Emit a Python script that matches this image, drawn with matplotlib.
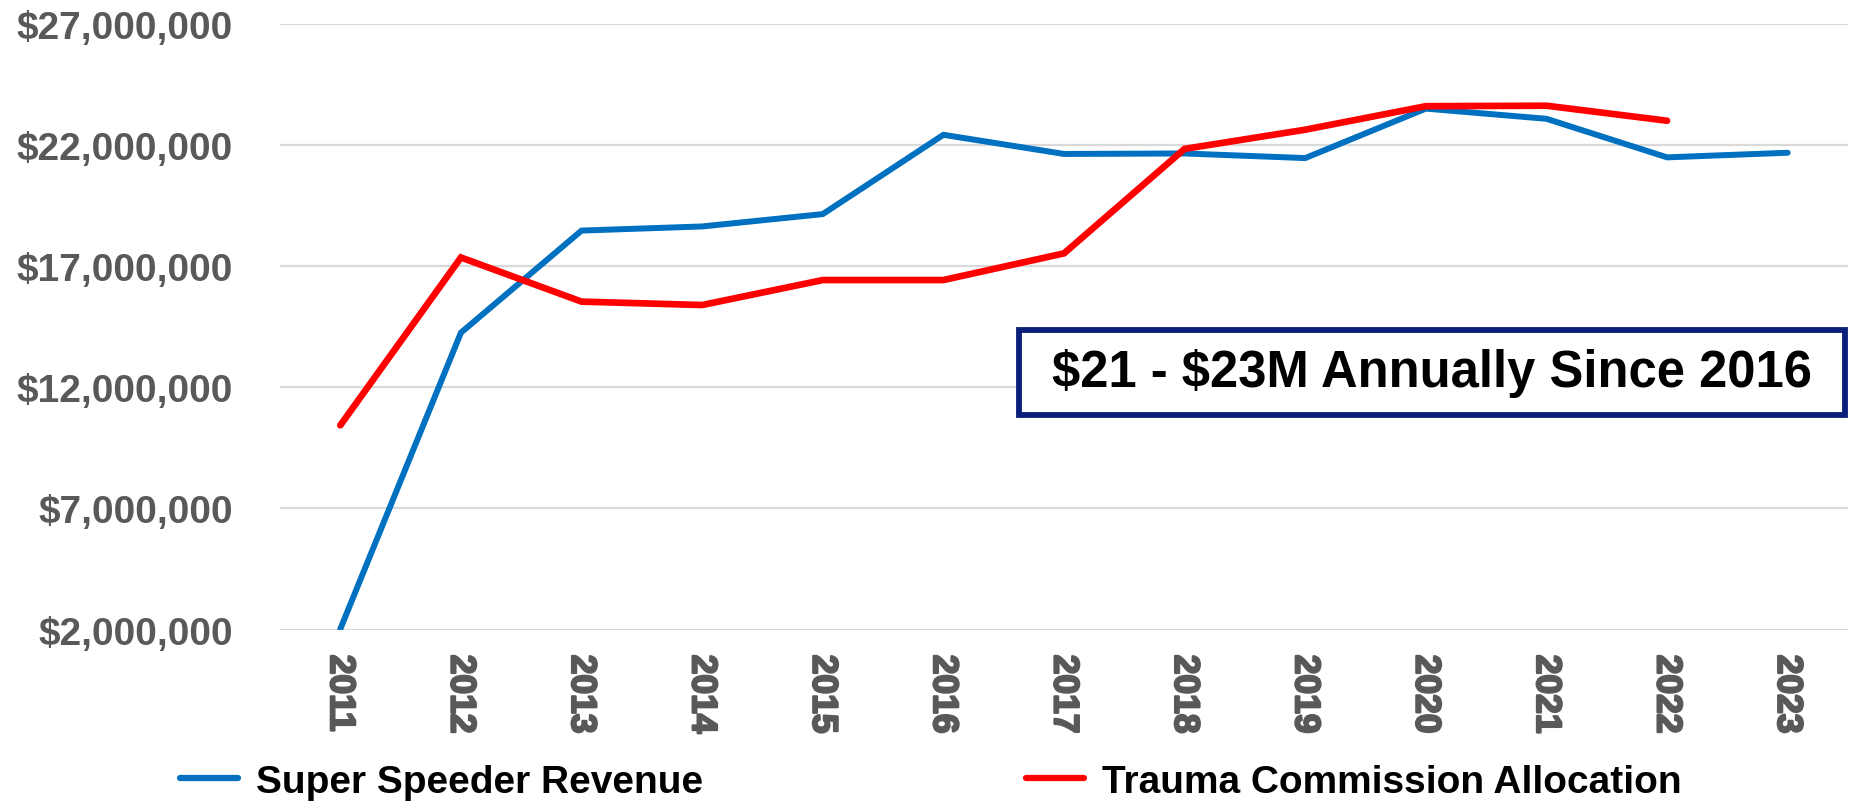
import matplotlib
matplotlib.use("Agg")
import matplotlib.pyplot as plt
import matplotlib.patheffects as pe
from matplotlib.patches import Rectangle
from matplotlib.ticker import FuncFormatter, FixedLocator

years = ["2011", "2012", "2013", "2014", "2015", "2016", "2017",
         "2018", "2019", "2020", "2021", "2022", "2023"]
super_speeder = [2.03e6, 14.25e6, 18.46e6, 18.63e6, 19.14e6, 22.41e6, 21.62e6,
                 21.64e6, 21.45e6, 23.49e6, 23.07e6, 21.48e6, 21.67e6]
trauma_years = years[:12]
trauma_alloc = [10.43e6, 17.35e6, 15.53e6, 15.39e6, 16.42e6, 16.42e6, 17.52e6,
                21.83e6, 22.62e6, 23.59e6, 23.61e6, 22.99e6]
y_ticks = [2e6, 7e6, 12e6, 17e6, 22e6, 27e6]
series_names = ["Super Speeder Revenue", "Trauma Commission Allocation"]
callout = "$21 - $23M Annually Since 2016"

plt.rcParams['font.family'] = ['Liberation Sans', 'DejaVu Sans']
plt.rcParams['font.weight'] = 'bold'
plt.rcParams['text.parse_math'] = False

W, H = 1853, 804
fig = plt.figure(figsize=(W / 100, H / 100), dpi=100)
ax = fig.add_axes([280 / W, 1 - 630.7 / H, (1848 - 280) / W, (630.7 - 24.5) / H])

x_idx = list(range(len(years)))
ax.plot(x_idx, super_speeder, color="#0070C0", lw=4.3,
        solid_capstyle="round", solid_joinstyle="miter", label=series_names[0], zorder=3)
ax.plot(x_idx[:len(trauma_alloc)], trauma_alloc, color="#FF0000", lw=4.8,
        solid_capstyle="round", solid_joinstyle="miter", label=series_names[1], zorder=4)

ax.set_xlim(-0.5, len(years) - 0.5)
ax.set_ylim(2e6, 27e6)
ax.xaxis.set_major_locator(FixedLocator(x_idx))
ax.set_xticklabels(years, rotation=-90, fontsize=25.5, color="#595959",
                   fontweight="bold", va="top", ha="center")
for lab in ax.get_xticklabels():
    lab.set_path_effects([pe.withStroke(linewidth=1.6, foreground="#595959")])
ax.yaxis.set_major_locator(FixedLocator(y_ticks))
ax.yaxis.set_major_formatter(FuncFormatter(lambda v, p: "${:,.0f}".format(v)))
for lab in ax.get_yticklabels():
    lab.set_fontsize(28)
    lab.set_color("#595959")
    lab.set_fontweight("bold")
ax.tick_params(axis="y", length=0, pad=34)
ax.tick_params(axis="x", length=0, pad=18)
ax.grid(axis="y", color="#D9D9D9", lw=1.6, zorder=0)
ax.set_axisbelow(True)
for s in ax.spines.values():
    s.set_visible(False)

# Callout box
bx0, bx1, by0, by1 = 1019, 1845, 331, 416
fig.patches.append(Rectangle((bx0 / W, 1 - by1 / H), (bx1 - bx0) / W, (by1 - by0) / H,
                             transform=fig.transFigure, facecolor="white",
                             edgecolor="#0B1F7A", lw=4.2, zorder=5))
fig.text((bx0 + bx1) / 2 / W, 1 - (by0 + by1) / 2 / H, callout, ha="center", va="center",
         fontsize=36.5, fontweight="bold", color="black", zorder=6)

leg = fig.legend(loc="center left", bbox_to_anchor=(180 / W, 1 - 783 / H), ncol=2,
                 frameon=False, fontsize=28, handlelength=1.5, handletextpad=0.45,
                 columnspacing=8.3, borderpad=0, borderaxespad=0)
for t in leg.get_texts():
    t.set_fontweight("bold")
for h in leg.get_lines():
    h.set_linewidth(4.5)

fig.savefig("out.png", dpi=100)
